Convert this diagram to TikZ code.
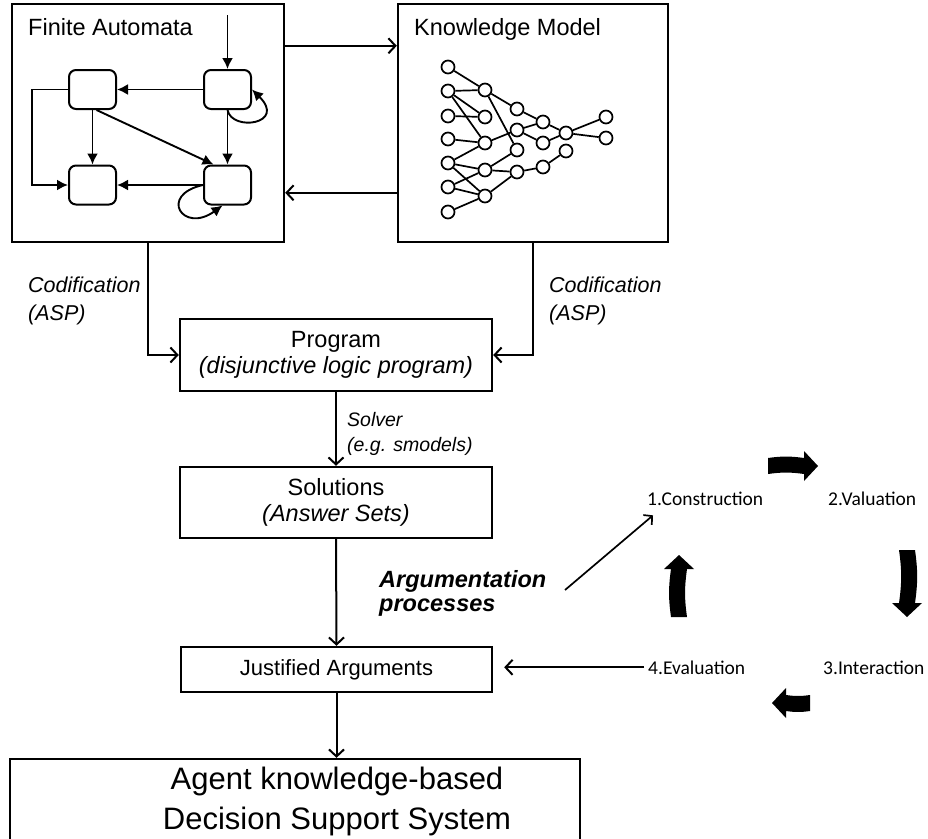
\documentclass[tikz,border=0pt]{standalone}
\usepackage{fontspec}
\setmainfont{Liberation Sans}
\newfontfamily\cyclefont{Carlito}
\usetikzlibrary{arrows.meta}

\tikzset{
  frame/.style={draw, line width=2.4pt, inner sep=0pt},
  box/.style={draw, line width=2.4pt, align=center, inner sep=0pt},
  fstate/.style={draw, line width=2pt, rounded corners=7pt, minimum width=47pt, minimum height=39pt},
  kn/.style={draw, circle, line width=1.7pt, minimum size=13pt, inner sep=0pt},
  fsm/.style={line width=1.9pt, -{Latex[length=11pt,width=11pt]}},
  flow/.style={line width=2pt, -{Straight Barb[length=7pt,width=15pt]}},
  cyc/.style={anchor=base west, inner sep=0pt, font=\cyclefont\fontsize{19.5}{22}\selectfont},
}

% block arrow of the cycle: x, y, angle, length
\newcommand{\cyclearrow}[4]{%
  \fill[shift={(#1,#2)}, rotate=#3] (0,-8) to[bend left=8] (#4-14,-8)
    -- (#4-14,-15) -- (#4,0) -- (#4-14,15) -- (#4-14,8)
    to[bend right=8] (0,8) -- cycle;}

\begin{document}
\begin{tikzpicture}[x=1pt, y=-1pt]
  \useasboundingbox (0,0) rectangle (928,838);

  % upper boxes
  \node[frame, minimum width=272pt, minimum height=238pt] (fa) at (148,123) {};
  \node[frame, minimum width=270pt, minimum height=238pt] (km) at (533,123) {};
  \node[anchor=base west, inner sep=0pt, font=\fontsize{23.5}{28}\selectfont] (falabel) at (28,35) {Finite Automata};
  \node[anchor=base west, inner sep=0pt, font=\fontsize{23.5}{28}\selectfont] (kmlabel) at (414,35) {Knowledge Model};

  \draw[flow] ([yshift=-43]fa.north east) -- ([yshift=-43]km.north west);
  \draw[flow] ([yshift=-190]km.north west) -- ([yshift=-190]fa.north east);

  % finite automata
  \node[fstate] (sTL) at (92.5,89.5) {};
  \node[fstate] (sTR) at (227.5,89.5) {};
  \node[fstate] (sBL) at (92.5,185) {};
  \node[fstate] (sBR) at (227.5,185) {};
  \coordinate (init) at (227.5,15);
  \begin{scope}[fsm]
    \draw (init) -- (sTR.north);
    \draw (sTR) -- (sTL);
    \draw (sTR) -- (sBR);
    \draw (sTL) -- (sBL);
    \draw (sBR) -- (sBL);
    \draw ([xshift=4]sTL.south) -- ([xshift=-14]sBR.north);
    \draw (sTL.west) -- ++(-36,0) |- (sBL.west);
    \draw (sTR.south) .. controls (232,132) and (287,124) .. (sTR.east);
    \draw (sBR.west) .. controls (158,195) and (183,234) .. ([xshift=-5]sBR.south);
  \end{scope}

  % knowledge model
  \foreach \i/\y in {1/67,2/91,3/116,4/139,5/163,6/187,7/212}
    \node[kn] (k1\i) at (448,\y) {};
  \foreach \i/\y in {1/90,2/117,3/143,4/170,5/196}
    \node[kn] (k2\i) at (485,\y) {};
  \foreach \i/\y in {1/109,2/130,3/150,4/172}
    \node[kn] (k3\i) at (517,\y) {};
  \foreach \i/\y in {1/122,2/143,3/167}
    \node[kn] (k4\i) at (543,\y) {};
  \node[kn] (k51) at (566,133) {};
  \node[kn] (k52) at (566,151) {};
  \node[kn] (k61) at (606,117) {};
  \node[kn] (k62) at (606,138) {};
  \begin{scope}[line width=1.7pt]
    \draw (k11) -- (k21);
    \draw (k12) -- (k21);
    \draw (k12) -- (k22);
    \draw (k12) -- (k23);
    \draw (k13) -- (k22);
    \draw (k14) -- (k23);
    \draw (k15) -- (k23);
    \draw (k15) -- (k24);
    \draw (k15) -- (k25);
    \draw (k16) -- (k24);
    \draw (k16) -- (k25);
    \draw (k17) -- (k25);
    \draw (k21) -- (k31);
    \draw (k21) -- (k33);
    \draw (k23) -- (k32);
    \draw (k24) -- (k33);
    \draw (k24) -- (k34);
    \draw (k25) -- (k34);
    \draw (k31) -- (k41);
    \draw (k32) -- (k41);
    \draw (k32) -- (k42);
    \draw (k34) -- (k43);
    \draw (k41) -- (k51);
    \draw (k42) -- (k51);
    \draw (k43) -- (k52);
    \draw (k51) -- (k61);
    \draw (k51) -- (k62);
  \end{scope}

  % main flow
  \node[box, minimum width=312pt, minimum height=72pt, font=\fontsize{23.5}{26}\selectfont] (prog) at (336,355)
    {Program\\\textit{(disjunctive logic program)}};
  \node[box, minimum width=312pt, minimum height=71pt, font=\fontsize{23.5}{26}\selectfont] (sol) at (336,502.5)
    {Solutions\\\textit{(Answer Sets)}};
  \node[box, minimum width=311pt, minimum height=45pt, font=\fontsize{22}{24}\selectfont] (just) at (336.5,669.5)
    {Justified Arguments};
  \node[frame, minimum width=570pt, minimum height=91pt] (dss) at (295,804.5) {};
  \node[anchor=north, align=center, inner sep=0pt, font=\fontsize{31}{40}\selectfont] (dsstext) at (337,767)
    {Agent knowledge-based\\Decision Support System};

  \node[anchor=north west, align=left, inner sep=0pt, font=\fontsize{21.5}{28}\selectfont\itshape] (codl) at (28,277)
    {Codification\\(ASP)};
  \node[anchor=north west, align=left, inner sep=0pt, font=\fontsize{21.5}{28}\selectfont\itshape] (codr) at (549,277)
    {Codification\\(ASP)};
  \node[anchor=north west, align=left, inner sep=0pt, font=\fontsize{19.5}{25}\selectfont\itshape] (solver) at (347,412)
    {Solver\\(e.g. smodels)};

  \draw[flow] (fa.south) |- (prog.west);
  \draw[flow] (km.south) |- (prog.east);
  \draw[flow] (prog.south) -- (sol.north);
  \draw[flow] (sol.south) -- (just.north);
  \draw[flow] (just.south) -- (dss.north -| just.south);

  % argumentation cycle
  \node[anchor=north west, align=left, inner sep=0pt, font=\fontsize{23.5}{24}\selectfont\bfseries\itshape] (argu) at (379,570)
    {Argumentation\\processes};
  \node[cyc] (cons) at (647,505) {1.Construction};
  \node[cyc] (val) at (828,505) {2.Valuation};
  \node[cyc] (inter) at (823,674) {3.Interaction};
  \node[cyc] (eval) at (648,674) {4.Evaluation};
  \coordinate (argtail) at (565,590);
  \draw[line width=1.7pt, -{Straight Barb[length=6pt,width=13pt]}] (argtail) -- ([shift={(6,10)}]cons.south west);
  \draw[flow] ([xshift=-4]eval.west) -- ([xshift=11]just.east |- eval.west);

  \cyclearrow{768}{466}{0}{50}
  \cyclearrow{907}{550}{-90}{67}
  \cyclearrow{810}{703}{180}{38}
  \cyclearrow{679}{617}{90}{62}
\end{tikzpicture}
\end{document}
